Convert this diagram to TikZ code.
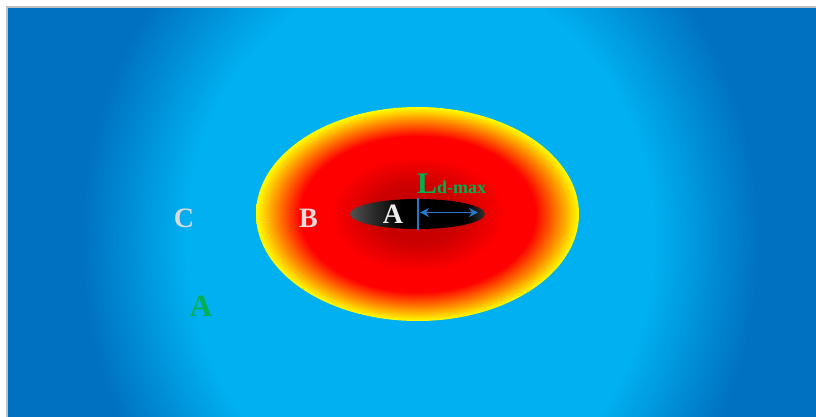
\documentclass[tikz,border=0pt]{standalone}
\usepackage{fontspec}
\setmainfont{Liberation Serif}
\usetikzlibrary{arrows.meta}
\definecolor{bglight}{HTML}{00B0F0}
\definecolor{bgdark}{HTML}{0070C0}
\definecolor{hotcore}{HTML}{C00000}
\definecolor{hotcoreb}{HTML}{CC0000}
\definecolor{hotred}{HTML}{FF0000}
\definecolor{hotorange}{HTML}{FF8C00}
\definecolor{hotyellow}{HTML}{FFFF00}
\definecolor{coregrayL}{HTML}{505050}
\definecolor{coregrayR}{HTML}{333333}
\definecolor{txtgreen}{HTML}{00B050}
\definecolor{txtlight}{HTML}{EDEDED}
\definecolor{txtpink}{HTML}{EEDCDC}
\definecolor{txtgray}{HTML}{D9D9D9}
\definecolor{markblue}{HTML}{2179C8}
\definecolor{framegray}{HTML}{C0C0C0}
\pgfdeclareradialshading{bgshade}{\pgfpoint{0bp}{0bp}}{color(0bp)=(bglight); color(7.5bp)=(bglight); color(10.9bp)=(bgdark); color(50bp)=(bgdark)}
\pgfdeclareradialshading{hotshade}{\pgfpoint{0bp}{0bp}}{color(0bp)=(hotcore); color(7bp)=(hotcoreb); color(13.5bp)=(hotred); color(18.2bp)=(hotred); color(22bp)=(hotorange); color(25bp)=(hotyellow); color(50bp)=(hotyellow)}
\pgfdeclarehorizontalshading{coreshade}{100bp}{color(0bp)=(coregrayL); color(25bp)=(coregrayL); color(44bp)=(black); color(68bp)=(black); color(75bp)=(coregrayR); color(100bp)=(coregrayR)}
\tikzset{
  lbl/.style={inner sep=0pt, anchor=base, font=\fontsize{28}{30}\selectfont\bfseries},
  marker/.style={draw=markblue, line width=2pt},
  dimarrow/.style={draw=markblue, line width=1.6pt, {Stealth[length=9pt,width=9pt]}-{Stealth[length=9pt,width=9pt]}}
}
\begin{document}
\begin{tikzpicture}[x=1pt,y=-1pt]
\useasboundingbox (0,0) rectangle (816,417);
\fill[white] (0,0) rectangle (816,417);
\begin{scope}
  \clip (7,7) rectangle (816,417);
  % half widths 780 (x) and 897 (y) around (420,240)
  \shade[shading=bgshade] (-360,-657) rectangle (1200,1137);
\end{scope}
\draw[framegray, line width=1.6pt] (6.8,418) -- (6.8,6.8) -- (817,6.8);
% hot zone
\shade[shading=hotshade] (417.5,214) ellipse [x radius=161.5, y radius=107];
% core
\shade[shading=coreshade] (417.5,214) ellipse [x radius=67.5, y radius=15];
% markers
\coordinate (mtop) at (417.5,198);
\coordinate (mbot) at (417.5,230);
\coordinate (astart) at (420,212.5);
\coordinate (aend) at (478,212.5);
\draw[marker] (mtop) -- (mbot);
\draw[dimarrow] (astart) -- (aend);
% labels
\node[lbl, text=txtlight] (labA) at (393,223.5) {A};
\node[lbl, text=txtpink] (labB) at (308.5,227.5) {B};
\node[lbl, text=txtgray] (labC) at (184,227.5) {C};
\node[lbl, text=txtgreen, font=\fontsize{31}{33}\selectfont\bfseries] (labA2) at (201,316) {A};
\node[inner sep=0pt, anchor=base west, text=txtgreen, font=\bfseries] (labL) at (417,193.5) {\fontsize{30}{32}\selectfont L\fontsize{18}{20}\selectfont d-max};
\end{tikzpicture}
\end{document}
